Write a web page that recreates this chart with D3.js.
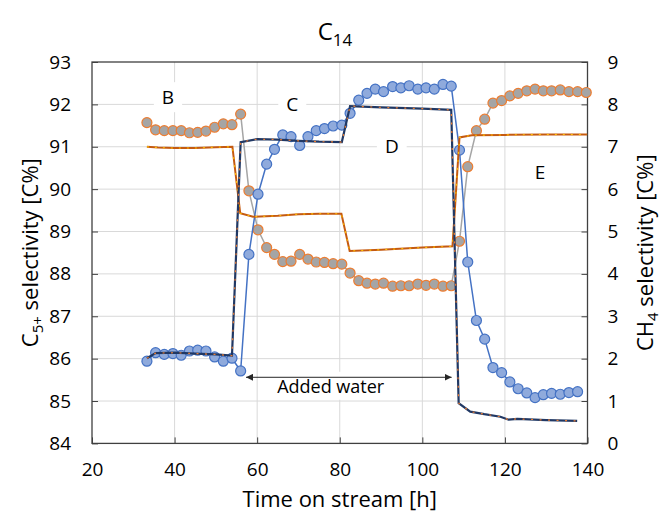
<!DOCTYPE html>
<html>
<head>
<meta charset="utf-8">
<script src="https://cdn.jsdelivr.net/npm/d3@7"></script>
<style>
  body { margin: 0; background: #fff; }
  svg text { font-family: "Open Sans", "Liberation Sans", sans-serif; fill: #000; }
</style>
</head>
<body>
<script>
// sample times [h] shared by both measured series
const sampleTime = [33.3, 35.4, 37.5, 39.6, 41.6, 43.6, 45.6, 47.6, 49.7, 51.8, 53.9, 56.0,
  58.0, 60.2, 62.3, 64.2, 66.2, 68.2, 70.3, 72.3, 74.3, 76.3, 78.4, 80.5, 82.5, 84.6, 86.6, 88.6,
  90.6, 92.8, 94.8, 96.8, 98.9, 100.9, 102.9, 105.0, 107.0,
  109.0, 111.0, 113.1, 115.1, 117.1, 119.2, 121.2, 123.2, 125.3, 127.3, 129.3, 131.3, 133.4, 135.5, 137.6, 139.7];

// C5+ selectivity (left axis)
const c5Selectivity = [91.57, 91.40, 91.38, 91.38, 91.38, 91.33, 91.34, 91.37, 91.46, 91.54, 91.52, 91.77,
  89.96, 89.04, 88.62, 88.46, 88.29, 88.30, 88.46, 88.35, 88.28, 88.27, 88.24, 88.23, 88.02, 87.84, 87.78, 87.76,
  87.78, 87.71, 87.72, 87.72, 87.76, 87.73, 87.76, 87.71, 87.72,
  88.77, 90.53, 91.38, 91.65, 92.03, 92.09, 92.20, 92.26, 92.32, 92.36, 92.32, 92.32, 92.34, 92.30, 92.30, 92.28];

// CH4 selectivity (right axis), no point at the last time
const ch4Selectivity = [1.94, 2.14, 2.10, 2.12, 2.08, 2.18, 2.20, 2.18, 2.04, 1.94, 2.01, 1.71,
  4.46, 5.88, 6.59, 6.94, 7.28, 7.24, 7.03, 7.24, 7.38, 7.43, 7.49, 7.51, 7.79, 8.10, 8.26, 8.36,
  8.30, 8.42, 8.39, 8.44, 8.36, 8.39, 8.36, 8.47, 8.43,
  6.92, 4.28, 2.90, 2.46, 1.79, 1.67, 1.45, 1.29, 1.19, 1.08, 1.15, 1.18, 1.16, 1.20, 1.22];

// model curves
const c5ModelTime = [33.3, 36, 40, 45, 50, 54.0, 55.9, 59, 65, 70, 75, 80.4, 82.4, 90, 100, 107.3, 109.0, 112, 120, 130, 139.9];
const c5Model = [91.00, 90.98, 90.97, 90.97, 90.99, 91.00, 89.43, 89.35, 89.37, 89.41, 89.42, 89.42,
  88.54, 88.57, 88.62, 88.65, 91.22, 91.27, 91.28, 91.29, 91.29];

const ch4ModelTime = [33.3, 35.4, 40, 45, 50, 53.9, 56.0, 60, 65, 70, 75, 80.5, 82.5, 90, 100, 107.0,
  108.8, 111.6, 115, 118.9, 120.9, 123, 130, 137.5];
const ch4Model = [2.01, 2.13, 2.14, 2.12, 2.10, 2.07, 7.11, 7.18, 7.17, 7.14, 7.12, 7.11, 7.96, 7.93, 7.90, 7.87,
  0.95, 0.75, 0.69, 0.63, 0.56, 0.58, 0.55, 0.53];

// tick labels
const xTicks = [20, 40, 60, 80, 100, 120, 140];
const leftTicks = [84, 85, 86, 87, 88, 89, 90, 91, 92, 93];
const rightTicks = [0, 1, 2, 3, 4, 5, 6, 7, 8, 9];

// text annotations (data coordinates, left axis)
const regionLabels = [
  {text: "B", t: 38.4, v: 92.17},
  {text: "C", t: 68.5, v: 92.0},
  {text: "D", t: 92.6, v: 91.02},
  {text: "E", t: 128.5, v: 90.41}
];
const waterSpan = [57.3, 107.1];

const fullWidth = 667, fullHeight = 517;
const margin = { top: 62, right: 79.5, bottom: 73.6, left: 92 };
const width = fullWidth - margin.left - margin.right;
const height = fullHeight - margin.top - margin.bottom;

const svg = d3.select("body").append("svg")
  .attr("width", fullWidth)
  .attr("height", fullHeight);

const defs = svg.append("defs");
defs.append("marker")
  .attr("id", "arrow")
  .attr("viewBox", "0 0 10 10")
  .attr("refX", 10).attr("refY", 5)
  .attr("markerWidth", 7).attr("markerHeight", 7)
  .attr("markerUnits", "userSpaceOnUse")
  .attr("orient", "auto-start-reverse")
  .append("path")
  .attr("d", "M0,0 L10,5 L0,10 Z")
  .attr("fill", "#262626");

const g = svg.append("g")
  .attr("transform", `translate(${margin.left},${margin.top})`);

const x = d3.scaleLinear().domain([20, 140]).range([0, width]);
const yLeft = d3.scaleLinear().domain([84, 93]).range([height, 0]);
const yRight = d3.scaleLinear().domain([0, 9]).range([height, 0]);

// gridlines
const grid = g.append("g").attr("stroke", "#d9d9d9").attr("stroke-width", 1);
grid.selectAll(".vg")
  .data(xTicks.slice(1, -1))
  .join("line")
  .attr("x1", d => x(d)).attr("x2", d => x(d))
  .attr("y1", 0).attr("y2", height);
grid.selectAll(".hg")
  .data(leftTicks.slice(1, -1))
  .join("line")
  .attr("x1", 0).attr("x2", width)
  .attr("y1", d => yLeft(d)).attr("y2", d => yLeft(d));

// white boxes behind text labels (drawn now so they cut the grid)
const boxes = g.append("g");

// axes
function styleAxis(sel) {
  sel.select(".domain").remove();
  sel.selectAll(".tick line").attr("stroke", "#404040");
  sel.selectAll(".tick text")
    .style("font-size", "19px")
    .attr("fill", "#000");
}

g.append("g")
  .attr("transform", `translate(0,${height})`)
  .call(d3.axisBottom(x).tickValues(xTicks).tickSize(-6).tickPadding(19))
  .call(styleAxis);

g.append("g")
  .call(d3.axisLeft(yLeft).tickValues(leftTicks).tickSize(-6).tickPadding(21))
  .call(styleAxis);

g.append("g")
  .attr("transform", `translate(${width},0)`)
  .call(d3.axisRight(yRight).tickValues(rightTicks).tickSize(-6).tickPadding(20))
  .call(styleAxis);

g.append("rect")
  .attr("width", width).attr("height", height)
  .attr("fill", "none")
  .attr("stroke", "#404040")
  .attr("stroke-width", 1.3);

// measured C5+ series
const c5Points = sampleTime.map((t, i) => ({t, v: c5Selectivity[i]}));
const ch4Points = ch4Selectivity.map((v, i) => ({t: sampleTime[i], v}));

const lineLeft = d3.line().x(d => x(d.t)).y(d => yLeft(d.v));
const lineRight = d3.line().x(d => x(d.t)).y(d => yRight(d.v));

g.append("path")
  .datum(c5Points)
  .attr("d", lineLeft)
  .attr("fill", "none")
  .attr("stroke", "#a5a5a5")
  .attr("stroke-width", 1.5);

g.append("g")
  .selectAll("circle")
  .data(c5Points)
  .join("circle")
  .attr("cx", d => x(d.t))
  .attr("cy", d => yLeft(d.v))
  .attr("r", 5)
  .attr("fill", "#a5a5a5")
  .attr("stroke", "#ed7d31")
  .attr("stroke-width", 1.2);

// measured CH4 series
g.append("path")
  .datum(ch4Points)
  .attr("d", lineRight)
  .attr("fill", "none")
  .attr("stroke", "#4472c4")
  .attr("stroke-width", 1.5);

g.append("g")
  .selectAll("circle")
  .data(ch4Points)
  .join("circle")
  .attr("cx", d => x(d.t))
  .attr("cy", d => yRight(d.v))
  .attr("r", 5)
  .attr("fill", "#8faadc")
  .attr("stroke", "#4472c4")
  .attr("stroke-width", 1.2);

// model lines: solid line with a dotted overlay
const c5ModelPts = c5ModelTime.map((t, i) => ({t, v: c5Model[i]}));
const ch4ModelPts = ch4ModelTime.map((t, i) => ({t, v: ch4Model[i]}));

g.append("path").datum(c5ModelPts).attr("d", lineLeft)
  .attr("fill", "none").attr("stroke", "#c55a11").attr("stroke-width", 2);
g.append("path").datum(c5ModelPts).attr("d", lineLeft)
  .attr("fill", "none").attr("stroke", "#ffc000").attr("stroke-width", 1.1)
  .attr("stroke-dasharray", "2,6");

g.append("path").datum(ch4ModelPts).attr("d", lineRight)
  .attr("fill", "none").attr("stroke", "#203864").attr("stroke-width", 2.2);
g.append("path").datum(ch4ModelPts).attr("d", lineRight)
  .attr("fill", "none").attr("stroke", "#ed7d31").attr("stroke-width", 1.2)
  .attr("stroke-dasharray", "2,6.5");

// region labels with white background
function boxedText(t, v, text, size) {
  const txt = g.append("text")
    .attr("x", x(t)).attr("y", yLeft(v))
    .attr("text-anchor", "middle")
    .attr("dominant-baseline", "central")
    .style("font-size", size + "px")
    .text(text);
  const bb = txt.node().getBBox();
  boxes.append("rect")
    .attr("x", bb.x - 8).attr("y", bb.y - 2)
    .attr("width", bb.width + 16).attr("height", bb.height + 4)
    .attr("fill", "#fff");
}

regionLabels.forEach(d => boxedText(d.t, d.v, d.text, 19));
boxedText(d3.mean(waterSpan) - 4.4, 85.36, "Added water", 18);

// added water arrow
g.append("line")
  .attr("x1", x(waterSpan[0])).attr("x2", x(waterSpan[1]))
  .attr("y1", yLeft(85.56)).attr("y2", yLeft(85.56))
  .attr("stroke", "#262626")
  .attr("stroke-width", 1)
  .attr("marker-start", "url(#arrow)")
  .attr("marker-end", "url(#arrow)");

// title
const title = svg.append("text")
  .attr("x", 335).attr("y", 40)
  .attr("text-anchor", "middle")
  .style("font-size", "24px");
title.append("tspan").text("C");
title.append("tspan").attr("dy", 6).style("font-size", "17px").text("14");

// axis titles
svg.append("text")
  .attr("x", margin.left + width / 2).attr("y", 507)
  .attr("text-anchor", "middle")
  .style("font-size", "22px")
  .text("Time on stream [h]");

const leftTitle = svg.append("text")
  .attr("transform", `translate(38,${margin.top + height / 2}) rotate(-90)`)
  .attr("text-anchor", "middle")
  .style("font-size", "22px");
leftTitle.append("tspan").text("C");
leftTitle.append("tspan").attr("dy", 5).style("font-size", "15px").text("5+");
leftTitle.append("tspan").attr("dy", -5).text(" selectivity [C%]");

const rightTitle = svg.append("text")
  .attr("transform", `translate(653,${margin.top + height / 2}) rotate(-90)`)
  .attr("text-anchor", "middle")
  .style("font-size", "22px");
rightTitle.append("tspan").text("CH");
rightTitle.append("tspan").attr("dy", 5).style("font-size", "15px").text("4");
rightTitle.append("tspan").attr("dy", -5).text(" selectivity [C%]");
</script>
</body>
</html>
